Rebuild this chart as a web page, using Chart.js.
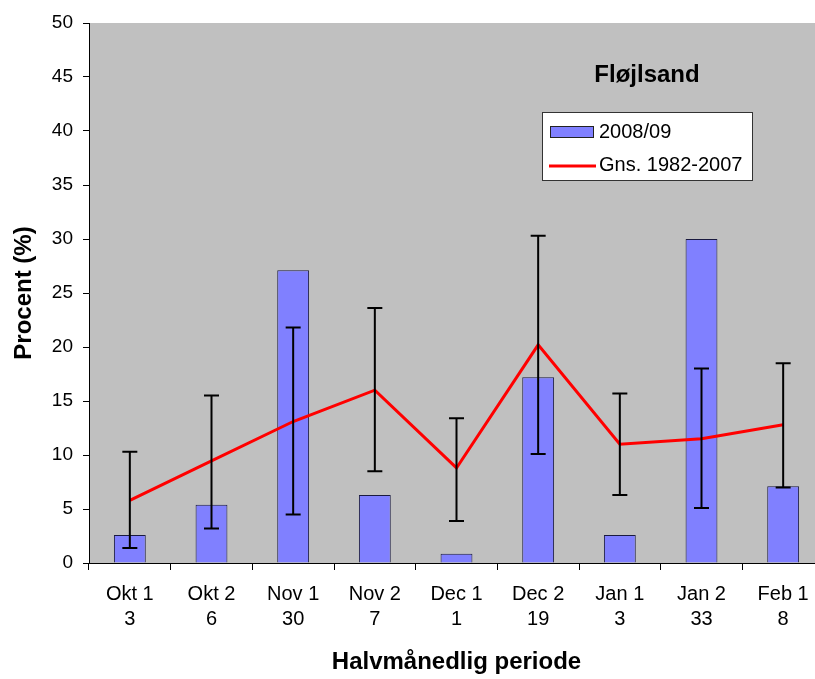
<!DOCTYPE html>
<html>
<head>
<meta charset="utf-8">
<script src="https://cdn.jsdelivr.net/npm/chart.js@4"></script>
<style>
  html, body { margin: 0; padding: 0; background: #fff; overflow: hidden; }
  #wrap { width: 824px; height: 679px; }
</style>
</head>
<body>
<div id="wrap"><canvas id="chart" width="824" height="679"></canvas></div>
<script>
// Data
const periods = ['Okt 1', 'Okt 2', 'Nov 1', 'Nov 2', 'Dec 1', 'Dec 2', 'Jan 1', 'Jan 2', 'Feb 1'];
const counts = ['3', '6', '30', '7', '1', '19', '3', '33', '8'];
const season = [2.6, 5.4, 27.1, 6.3, 0.85, 17.2, 2.6, 30.0, 7.1];
const average = [5.8, 9.45, 13.1, 16.0, 8.8, 20.2, 11.0, 11.5, 12.8];
const errUpper = [10.3, 15.5, 21.8, 23.6, 13.4, 30.3, 15.7, 18.0, 18.5];
const errLower = [1.4, 3.2, 4.5, 8.5, 3.9, 10.1, 6.3, 5.1, 7.0];

const FONT = '"Liberation Sans", Arial, sans-serif';

// gray plot background
const plotBg = {
  id: 'plotBg',
  beforeDraw(chart) {
    const { ctx, chartArea: a } = chart;
    ctx.save();
    ctx.fillStyle = '#c0c0c0';
    ctx.fillRect(a.left, a.top, a.right - a.left, a.bottom - a.top);
    ctx.restore();
  }
};

// error bars around the average line
const errorBars = {
  id: 'errorBars',
  afterDatasetsDraw(chart) {
    const { ctx } = chart;
    const x = chart.scales.x, y = chart.scales.y;
    ctx.save();
    ctx.strokeStyle = '#000';
    ctx.lineWidth = 2;
    errUpper.forEach((up, i) => {
      const px = x.getPixelForValue(i);
      const pt = y.getPixelForValue(up);
      const pb = y.getPixelForValue(errLower[i]);
      ctx.beginPath();
      ctx.moveTo(px, pt); ctx.lineTo(px, pb);
      ctx.moveTo(px - 7.5, pt); ctx.lineTo(px + 7.5, pt);
      ctx.moveTo(px - 7.5, pb); ctx.lineTo(px + 7.5, pb);
      ctx.stroke();
    });
    ctx.restore();
  }
};

// title and legend box inside the plot
const insideLegend = {
  id: 'insideLegend',
  afterDraw(chart) {
    const { ctx } = chart;
    ctx.save();
    ctx.fillStyle = '#000';
    ctx.font = 'bold 24px ' + FONT;
    ctx.textAlign = 'center';
    ctx.textBaseline = 'middle';
    ctx.fillText('Fløjlsand', 647, 75);

    const bx = 542, by = 112, bw = 210, bh = 68;
    ctx.fillStyle = '#fff';
    ctx.fillRect(bx, by, bw, bh);
    ctx.strokeStyle = '#333';
    ctx.lineWidth = 1;
    ctx.strokeRect(bx + 0.5, by + 0.5, bw, bh);

    ctx.fillStyle = '#8080ff';
    ctx.fillRect(550, 126, 43, 11);
    ctx.strokeStyle = '#222';
    ctx.strokeRect(550.5, 126.5, 43, 11);

    ctx.strokeStyle = '#ff0000';
    ctx.lineWidth = 3;
    ctx.beginPath();
    ctx.moveTo(549, 166); ctx.lineTo(596, 166);
    ctx.stroke();

    ctx.fillStyle = '#000';
    ctx.font = '20px ' + FONT;
    ctx.textAlign = 'left';
    ctx.fillText('2008/09', 599, 132);
    ctx.fillText('Gns. 1982-2007', 599, 165);
    ctx.restore();
  }
};

new Chart(document.getElementById('chart'), {
  data: {
    labels: periods.map((p, i) => [p, counts[i]]),
    datasets: [
      {
        type: 'line',
        label: 'Gns. 1982-2007',
        data: average,
        borderColor: '#ff0000',
        borderWidth: 3,
        pointRadius: 0,
        tension: 0,
        order: 1
      },
      {
        type: 'bar',
        label: '2008/09',
        data: season,
        backgroundColor: '#8080ff',
        borderColor: '#1a1a40',
        borderWidth: 1,
        categoryPercentage: 1,
        barPercentage: 0.39,
        order: 2
      }
    ]
  },
  options: {
    responsive: false,
    animation: false,
    layout: { padding: { top: 23, right: 0, left: 0, bottom: 0 } },
    plugins: { legend: { display: false }, tooltip: { enabled: false } },
    scales: {
      x: {
        offset: true,
        grid: { offset: true, drawOnChartArea: false, color: '#000', tickLength: 7 },
        border: { color: '#000', width: 1 },
        ticks: { color: '#000', font: { family: FONT, size: 20, lineHeight: 1.25 }, padding: 12, maxRotation: 0 },
        title: {
          display: true, text: 'Halvmånedlig periode', color: '#000',
          font: { family: FONT, size: 24, weight: 'bold' }, padding: { top: 0, bottom: 2 }
        },
        afterFit(s) { s.height = 116; }
      },
      y: {
        min: 0, max: 50,
        grid: { drawOnChartArea: false, color: '#000', tickLength: 6 },
        border: { color: '#000', width: 1 },
        ticks: { stepSize: 5, color: '#000', font: { family: FONT, size: 19 }, padding: 10 },
        title: {
          display: true, text: 'Procent (%)', color: '#000',
          font: { family: FONT, size: 24, weight: 'bold' }, padding: { top: 10, bottom: 0 }
        },
        afterFit(s) { s.width = 89; }
      }
    }
  },
  plugins: [plotBg, errorBars, insideLegend]
});
</script>
</body>
</html>
